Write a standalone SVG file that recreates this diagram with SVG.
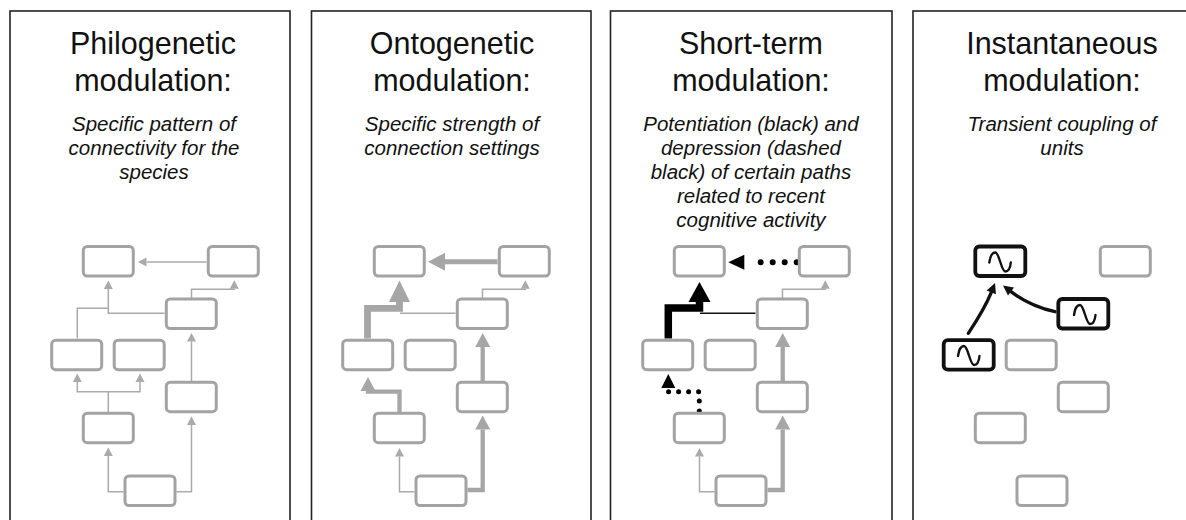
<svg xmlns="http://www.w3.org/2000/svg" width="1186" height="520" viewBox="0 0 1186 520">
<style>
.panel{fill:#fff;stroke:#222;stroke-width:1.6}
.title{font-family:"Liberation Sans",Arial,Helvetica,sans-serif;font-size:30.5px;fill:#111;text-anchor:middle}
.sub{font-family:"Liberation Sans",Arial,Helvetica,sans-serif;font-size:20.5px;font-style:italic;fill:#111;text-anchor:middle}
.node{fill:#fff;stroke:#a3a3a3;stroke-width:3}
.bnode{fill:#fff;stroke:#111;stroke-width:3.8}
.sine{fill:none;stroke:#111;stroke-width:2.4;stroke-linecap:round;stroke-linejoin:round}
.thin{fill:none;stroke:#aaa;stroke-width:1.5}
.med{fill:none;stroke:#a6a6a6;stroke-width:4.3}
.thick{fill:none;stroke:#a6a6a6;stroke-width:5}
.xthick{fill:none;stroke:#a6a6a6;stroke-width:6.8}
.bthin{fill:none;stroke:#111;stroke-width:1.6}
.bthick{fill:none;stroke:#000;stroke-width:7.5}
.dotL{fill:none;stroke:#000;stroke-width:6;stroke-dasharray:0 12;stroke-linecap:round}
.dotS{fill:none;stroke:#000;stroke-width:5;stroke-dasharray:0 10;stroke-linecap:round}
.curve{fill:none;stroke:#111;stroke-width:3.3;stroke-linecap:round}
</style>
<defs>
<marker id="aS" markerUnits="userSpaceOnUse" markerWidth="10" markerHeight="10" refX="0" refY="4.5" orient="auto" overflow="visible"><path d="M0,0 L8.5,4.5 L0,9 z" fill="#aaa"/></marker>
<marker id="aM" markerUnits="userSpaceOnUse" markerWidth="16" markerHeight="16" refX="0" refY="7.5" orient="auto" overflow="visible"><path d="M0,0 L14,7.5 L0,15 z" fill="#a6a6a6"/></marker>
<marker id="aL" markerUnits="userSpaceOnUse" markerWidth="18" markerHeight="18" refX="0" refY="9" orient="auto" overflow="visible"><path d="M0,0 L17,9 L0,18 z" fill="#a6a6a6"/></marker>
<marker id="aXL" markerUnits="userSpaceOnUse" markerWidth="22" markerHeight="22" refX="0" refY="10.5" orient="auto" overflow="visible"><path d="M0,0 L21.5,10.5 L0,21 z" fill="#a6a6a6"/></marker>
<marker id="bXL" markerUnits="userSpaceOnUse" markerWidth="22" markerHeight="22" refX="0" refY="11" orient="auto" overflow="visible"><path d="M0,0 L20,11 L0,22 z" fill="#000"/></marker>
<marker id="bDL" markerUnits="userSpaceOnUse" markerWidth="16" markerHeight="16" refX="-4.4" refY="7.5" orient="auto" overflow="visible"><path d="M0,0 L16,7.5 L0,15 z" fill="#000"/></marker>
<marker id="bDS" markerUnits="userSpaceOnUse" markerWidth="15" markerHeight="15" refX="-2.5" refY="7" orient="auto" overflow="visible"><path d="M0,0 L14,7 L0,14 z" fill="#000"/></marker>
<marker id="bC" markerUnits="userSpaceOnUse" markerWidth="12" markerHeight="12" refX="0" refY="5" orient="auto" overflow="visible"><path d="M0,0 L10,5 L0,10 z" fill="#111"/></marker>
<path id="wave" d="M-11,1 C-10,-6 -7.5,-9 -5,-9 C-1,-9 1,10 5,10 C8,10 10,6 10.5,1"/>
</defs>
<rect width="1186" height="520" fill="#fff"/>

<!-- Panel frames -->
<g id="frames">
<rect class="panel" x="10" y="11" width="280" height="530"/>
<rect class="panel" x="311.5" y="11" width="279.5" height="530"/>
<rect class="panel" x="610.5" y="11" width="281.5" height="530"/>
<rect class="panel" x="913" y="11" width="300" height="530"/>
</g>

<!-- Texts -->
<g id="texts">
<text class="title" x="153" y="53.5">Philogenetic</text>
<text class="title" x="153" y="91">modulation:</text>
<text class="sub" x="154" y="131">Specific pattern of</text>
<text class="sub" x="154" y="155">connectivity for the</text>
<text class="sub" x="154" y="179">species</text>

<text class="title" x="452" y="53.5">Ontogenetic</text>
<text class="title" x="452" y="91">modulation:</text>
<text class="sub" x="452" y="131">Specific strength of</text>
<text class="sub" x="452" y="155">connection settings</text>

<text class="title" x="751" y="53.5">Short-term</text>
<text class="title" x="751" y="91">modulation:</text>
<text class="sub" x="751" y="131">Potentiation (black) and</text>
<text class="sub" x="751" y="155">depression (dashed</text>
<text class="sub" x="751" y="179">black) of certain paths</text>
<text class="sub" x="751" y="203">related to recent</text>
<text class="sub" x="751" y="227">cognitive activity</text>

<text class="title" x="1062" y="53.5">Instantaneous</text>
<text class="title" x="1062" y="91">modulation:</text>
<text class="sub" x="1062" y="131">Transient coupling of</text>
<text class="sub" x="1062" y="155">units</text>
</g>

<!-- Panel 1 -->
<g id="panel1">
<g id="p1-connectors">
<path class="thin" d="M206.5,262 H146.5" marker-end="url(#aS)"/>
<path class="thin" d="M164.5,313.3 H108.3 V289" marker-end="url(#aS)"/>
<path class="thin" d="M77.3,338.5 V308.3 H108.3"/>
<path class="thin" d="M191.5,298 V289.3 H234.3 V288.8" marker-end="url(#aS)"/>
<path class="thin" d="M108.3,412 V391.7 H77.3 V382" marker-end="url(#aS)"/>
<path class="thin" d="M108.3,391.7 H140 V382" marker-end="url(#aS)"/>
<path class="thin" d="M191.5,381 V341.5" marker-end="url(#aS)"/>
<path class="thin" d="M123.5,491.7 H108.3 V456" marker-end="url(#aS)"/>
<path class="thin" d="M176.5,491.7 H191.5 V425" marker-end="url(#aS)"/>
</g>
<g id="p1-A"><rect class="node" x="83.3" y="246.5" width="50" height="29.5" rx="4"/></g>
<g id="p1-B"><rect class="node" x="208.3" y="246.5" width="50" height="29.5" rx="4"/></g>
<g id="p1-C"><rect class="node" x="166.3" y="299" width="50" height="29.5" rx="4"/></g>
<g id="p1-D"><rect class="node" x="51.7" y="340.2" width="50" height="29.5" rx="4"/></g>
<g id="p1-E"><rect class="node" x="114.2" y="340.2" width="50" height="29.5" rx="4"/></g>
<g id="p1-F"><rect class="node" x="166.3" y="382.2" width="50" height="29.5" rx="4"/></g>
<g id="p1-G"><rect class="node" x="83.3" y="413.2" width="50" height="29.5" rx="4"/></g>
<g id="p1-H"><rect class="node" x="125" y="476" width="50" height="29.5" rx="4"/></g>
</g>

<!-- Panel 2 -->
<g id="panel2" transform="translate(291,0)">
<g id="p2-connectors">
<path class="thick" d="M206.5,261.8 H154" marker-end="url(#aL)"/>
<path class="thin" d="M164.5,313.3 H109"/>
<path class="xthick" d="M76.5,338.5 V308.3 H108.5 V302" marker-end="url(#aXL)"/>
<path class="thin" d="M191.5,298 V289.3 H234.3 V288.8" marker-end="url(#aS)"/>
<path class="med" d="M108.5,412 V391.7 H77 V391" marker-end="url(#aM)"/>
<path class="med" d="M191.7,381 V347" marker-end="url(#aM)"/>
<path class="thin" d="M123.5,491.7 H108.5 V456.5" marker-end="url(#aS)"/>
<path class="med" d="M176.5,490 H191.7 V429.5" marker-end="url(#aM)"/>
</g>
<g id="p2-A"><rect class="node" x="83.3" y="246.5" width="50" height="29.5" rx="4"/></g>
<g id="p2-B"><rect class="node" x="208.3" y="246.5" width="50" height="29.5" rx="4"/></g>
<g id="p2-C"><rect class="node" x="166.3" y="299" width="50" height="29.5" rx="4"/></g>
<g id="p2-D"><rect class="node" x="51.7" y="340.2" width="50" height="29.5" rx="4"/></g>
<g id="p2-E"><rect class="node" x="114.2" y="340.2" width="50" height="29.5" rx="4"/></g>
<g id="p2-F"><rect class="node" x="166.3" y="382.2" width="50" height="29.5" rx="4"/></g>
<g id="p2-G"><rect class="node" x="83.3" y="413.2" width="50" height="29.5" rx="4"/></g>
<g id="p2-H"><rect class="node" x="125" y="476" width="50" height="29.5" rx="4"/></g>
</g>

<!-- Panel 3 -->
<g id="panel3" transform="translate(591,0)">
<g id="p3-connectors">
<path class="dotL" d="M205.7,262.3 H157.7" marker-end="url(#bDL)"/>
<path class="bthin" d="M164.5,313.3 H109"/>
<path class="bthick" d="M77.3,338.5 V308 H108.5 V302" marker-end="url(#bXL)"/>
<path class="thin" d="M191.5,298 V289.3 H234.3 V288.8" marker-end="url(#aS)"/>
<path class="dotS" d="M108.3,411 V391.7 H77.3 V390.5" marker-end="url(#bDS)"/>
<path class="med" d="M191.7,381 V347" marker-end="url(#aM)"/>
<path class="thin" d="M123.5,491.7 H108.5 V456.5" marker-end="url(#aS)"/>
<path class="med" d="M176.5,490 H191.7 V429.5" marker-end="url(#aM)"/>
</g>
<g id="p3-A"><rect class="node" x="83.3" y="246.5" width="50" height="29.5" rx="4"/></g>
<g id="p3-B"><rect class="node" x="208.3" y="246.5" width="50" height="29.5" rx="4"/></g>
<g id="p3-C"><rect class="node" x="166.3" y="299" width="50" height="29.5" rx="4"/></g>
<g id="p3-D"><rect class="node" x="51.7" y="340.2" width="50" height="29.5" rx="4"/></g>
<g id="p3-E"><rect class="node" x="114.2" y="340.2" width="50" height="29.5" rx="4"/></g>
<g id="p3-F"><rect class="node" x="166.3" y="382.2" width="50" height="29.5" rx="4"/></g>
<g id="p3-G"><rect class="node" x="83.3" y="413.2" width="50" height="29.5" rx="4"/></g>
<g id="p3-H"><rect class="node" x="125" y="476" width="50" height="29.5" rx="4"/></g>
</g>

<!-- Panel 4 -->
<g id="panel4" transform="translate(892,0)">
<g id="p4-connectors">
<path class="curve" d="M76.3,333.3 Q93,308 99.3,292.3" marker-end="url(#bC)"/>
<path class="curve" d="M163,311.7 Q138,306 119,291.6" marker-end="url(#bC)"/>
</g>
<g id="p4-A"><rect class="bnode" x="83.3" y="246.5" width="50" height="29.5" rx="4"/><use href="#wave" class="sine" transform="translate(108.3,261.5)"/></g>
<g id="p4-B"><rect class="node" x="208.3" y="246.5" width="50" height="29.5" rx="4"/></g>
<g id="p4-C"><rect class="bnode" x="166.3" y="299" width="50" height="29.5" rx="4"/><use href="#wave" class="sine" transform="translate(193,314)"/></g>
<g id="p4-D"><rect class="bnode" x="51.7" y="340.2" width="50" height="29.5" rx="4"/><use href="#wave" class="sine" transform="translate(77,355)"/></g>
<g id="p4-E"><rect class="node" x="114.2" y="340.2" width="50" height="29.5" rx="4"/></g>
<g id="p4-F"><rect class="node" x="166.3" y="382.2" width="50" height="29.5" rx="4"/></g>
<g id="p4-G"><rect class="node" x="83.3" y="413.2" width="50" height="29.5" rx="4"/></g>
<g id="p4-H"><rect class="node" x="125" y="476" width="50" height="29.5" rx="4"/></g>
</g>
</svg>
